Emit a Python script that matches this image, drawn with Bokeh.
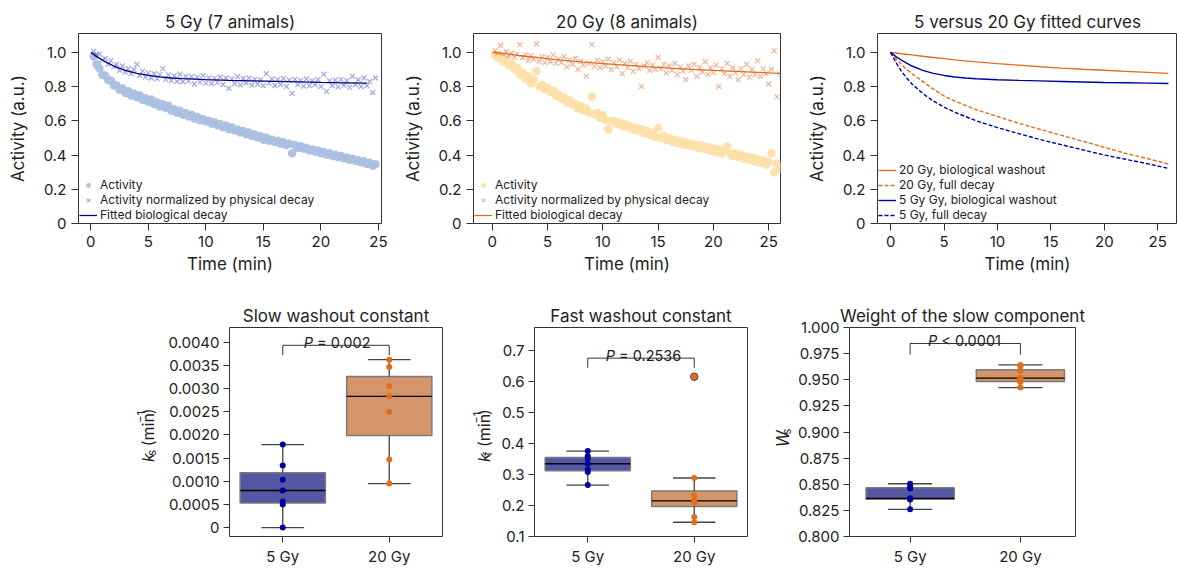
import numpy as np
from bokeh.plotting import figure
from bokeh.layouts import row, column
from bokeh.models import (FixedTicker, Legend, LegendItem, NumeralTickFormatter, Range1d)
from bokeh.embed import file_html
from bokeh.resources import INLINE
from bokeh.core.properties import value

# ---------------- data ----------------
t5 = [0.25, 0.5, 0.75, 1.0, 1.25, 1.5, 1.75, 2.0, 2.25, 2.5, 2.75, 3.0, 3.25, 3.5, 3.75, 4.0,
      4.25, 4.5, 4.75, 5.0, 5.25, 5.5, 5.75, 6.0, 6.25, 6.5, 6.75, 7.0, 7.25, 7.5, 7.75, 8.0,
      8.25, 8.5, 8.75, 9.0, 9.25, 9.5, 9.75, 10.0, 10.25, 10.5, 10.75, 11.0, 11.25, 11.5, 11.75, 12.0,
      12.25, 12.5, 12.75, 13.0, 13.25, 13.5, 13.75, 14.0, 14.25, 14.5, 14.75, 15.0, 15.25, 15.5, 15.75, 16.0,
      16.25, 16.5, 16.75, 17.0, 17.25, 17.5, 17.75, 18.0, 18.25, 18.5, 18.75, 19.0, 19.25, 19.5, 19.75, 20.0,
      20.25, 20.5, 20.75, 21.0, 21.25, 21.5, 21.75, 22.0, 22.25, 22.5, 22.75, 23.0, 23.25, 23.5, 23.75, 24.0,
      24.25, 24.5, 24.75]
activity_5 = [0.975, 0.93, 0.905, 0.868, 0.865, 0.838, 0.834, 0.808, 0.806, 0.781, 0.789, 0.762, 0.772, 0.748, 0.759, 0.738,
              0.749, 0.722, 0.731, 0.712, 0.724, 0.698, 0.709, 0.684, 0.697, 0.676, 0.688, 0.659, 0.668, 0.647, 0.658, 0.636,
              0.645, 0.625, 0.636, 0.613, 0.624, 0.603, 0.611, 0.596, 0.601, 0.583, 0.592, 0.574, 0.581, 0.563, 0.572, 0.551,
              0.562, 0.543, 0.549, 0.532, 0.541, 0.522, 0.531, 0.511, 0.52, 0.502, 0.509, 0.49, 0.503, 0.484, 0.49, 0.476,
              0.483, 0.466, 0.474, 0.459, 0.466, 0.41, 0.458, 0.443, 0.451, 0.436, 0.442, 0.427, 0.433, 0.419, 0.426, 0.41,
              0.418, 0.402, 0.41, 0.395, 0.402, 0.387, 0.394, 0.381, 0.386, 0.372, 0.379, 0.365, 0.37, 0.357, 0.363, 0.348,
              0.355, 0.338, 0.346]
normalized_5 = [1.005, 0.985, 0.99, 0.955, 0.965, 0.93, 0.95, 0.915, 0.93, 0.895, 0.92, 0.885, 0.905, 0.875, 0.9, 0.93,
                0.865, 0.89, 0.855, 0.88, 0.85, 0.875, 0.845, 0.87, 0.905, 0.842, 0.868, 0.835, 0.862, 0.83, 0.872, 0.828,
                0.86, 0.832, 0.858, 0.815, 0.855, 0.826, 0.864, 0.82, 0.852, 0.818, 0.848, 0.823, 0.856, 0.812, 0.85, 0.79,
                0.845, 0.818, 0.858, 0.81, 0.847, 0.822, 0.85, 0.808, 0.842, 0.815, 0.84, 0.805, 0.875, 0.82, 0.845, 0.805,
                0.84, 0.812, 0.848, 0.8, 0.838, 0.76, 0.842, 0.81, 0.836, 0.802, 0.845, 0.805, 0.835, 0.81, 0.84, 0.8,
                0.872, 0.772, 0.835, 0.805, 0.838, 0.798, 0.842, 0.808, 0.835, 0.795, 0.86, 0.81, 0.84, 0.8, 0.85, 0.805,
                0.83, 0.765, 0.85]

t20 = [0.25, 0.5, 0.75, 1.0, 1.25, 1.5, 1.75, 2.0, 2.25, 2.5, 2.75, 3.0, 3.25, 3.5, 3.75, 4.0,
       4.25, 4.5, 4.75, 5.0, 5.25, 5.5, 5.75, 6.0, 6.25, 6.5, 6.75, 7.0, 7.25, 7.5, 7.75, 8.0,
       8.25, 8.5, 8.75, 9.0, 9.25, 9.5, 9.75, 10.0, 10.25, 10.5, 10.75, 11.0, 11.25, 11.5, 11.75, 12.0,
       12.25, 12.5, 12.75, 13.0, 13.25, 13.5, 13.75, 14.0, 14.25, 14.5, 14.75, 15.0, 15.25, 15.5, 15.75, 16.0,
       16.25, 16.5, 16.75, 17.0, 17.25, 17.5, 17.75, 18.0, 18.25, 18.5, 18.75, 19.0, 19.25, 19.5, 19.75, 20.0,
       20.25, 20.5, 20.75, 21.0, 21.25, 21.5, 21.75, 22.0, 22.25, 22.5, 22.75, 23.0, 23.25, 23.5, 23.75, 24.0,
       24.25, 24.5, 24.75, 25.0, 25.25, 25.5, 25.75, 26.0]
activity_20 = [0.985, 0.97, 0.975, 0.945, 0.955, 0.925, 0.93, 0.9, 0.912, 0.87, 0.88, 0.845, 0.862, 0.82, 0.838, 0.89,
               0.8, 0.81, 0.785, 0.795, 0.77, 0.775, 0.745, 0.752, 0.73, 0.738, 0.705, 0.72, 0.695, 0.7, 0.672, 0.685,
               0.66, 0.672, 0.648, 0.74, 0.638, 0.645, 0.618, 0.632, 0.605, 0.55, 0.598, 0.6, 0.582, 0.59, 0.57, 0.58,
               0.562, 0.568, 0.548, 0.56, 0.54, 0.551, 0.528, 0.54, 0.518, 0.53, 0.505, 0.558, 0.5, 0.512, 0.488, 0.5,
               0.478, 0.49, 0.47, 0.482, 0.462, 0.475, 0.455, 0.466, 0.448, 0.46, 0.44, 0.455, 0.435, 0.446, 0.425, 0.44,
               0.418, 0.432, 0.41, 0.425, 0.45, 0.408, 0.395, 0.41, 0.388, 0.4, 0.378, 0.392, 0.372, 0.385, 0.362, 0.375,
               0.355, 0.368, 0.345, 0.36, 0.41, 0.3, 0.35, 0.32]
normalized_20 = [1.01, 0.995, 1.04, 0.99, 1.005, 0.98, 0.995, 0.97, 0.99, 1.045, 0.968, 0.985, 0.955, 0.98, 0.96, 1.05,
                 0.948, 0.975, 0.94, 0.97, 0.945, 0.985, 0.935, 0.962, 0.94, 0.975, 0.915, 0.955, 0.93, 0.965, 0.9, 0.948,
                 0.925, 0.86, 0.935, 1.045, 0.918, 0.955, 0.91, 0.945, 0.92, 0.96, 0.9, 0.94, 0.915, 0.955, 0.875, 0.935,
                 0.91, 0.948, 0.89, 0.93, 0.905, 0.8, 0.92, 0.94, 0.895, 0.925, 0.9, 0.97, 0.905, 0.93, 0.88, 0.92,
                 0.895, 0.935, 0.87, 0.915, 0.89, 0.84, 0.92, 0.895, 0.93, 0.86, 0.91, 0.885, 0.945, 0.87, 0.91, 0.88,
                 0.925, 0.8, 0.905, 0.875, 0.935, 0.86, 0.91, 0.88, 0.84, 0.905, 0.87, 0.93, 0.855, 0.9, 0.87, 0.95,
                 0.86, 0.905, 0.875, 0.815, 0.9, 1.01, 0.74, 0.875]

t_fit = [0, 0.5, 1, 1.5, 2, 3, 4, 5, 6, 7, 8, 10, 12, 14, 16, 18, 20, 22, 24, 26]
bio_5 = [1.0, 0.975, 0.955, 0.937, 0.92, 0.895, 0.877, 0.865, 0.856, 0.85, 0.846, 0.84, 0.836, 0.833, 0.83, 0.827, 0.824, 0.822, 0.82, 0.818]
bio_20 = [1.0, 0.996, 0.992, 0.989, 0.985, 0.977, 0.97, 0.963, 0.956, 0.95, 0.944, 0.934, 0.925, 0.916, 0.908, 0.901, 0.895, 0.889, 0.883, 0.877]
full_5 = [1.0, 0.94, 0.89, 0.85, 0.815, 0.76, 0.715, 0.68, 0.65, 0.625, 0.6, 0.56, 0.525, 0.49, 0.46, 0.43, 0.4, 0.375, 0.35, 0.322]
full_20 = [1.0, 0.963, 0.93, 0.9, 0.875, 0.83, 0.785, 0.745, 0.715, 0.69, 0.665, 0.625, 0.585, 0.55, 0.515, 0.48, 0.445, 0.41, 0.38, 0.347]

groups = ["5 Gy", "20 Gy"]
ks_5 = [0.0, 0.0005, 0.00056, 0.0008, 0.00103, 0.00134, 0.00179]
ks_20 = [0.00095, 0.00147, 0.0025, 0.00283, 0.00305, 0.00346, 0.00362]
kf_5 = [0.266, 0.308, 0.316, 0.335, 0.351, 0.359, 0.376]
kf_20 = [0.146, 0.163, 0.208, 0.212, 0.218, 0.233, 0.289, 0.616]
ws_5 = [0.826, 0.8355, 0.836, 0.8365, 0.846, 0.8475, 0.8505]
ws_20 = [0.9425, 0.948, 0.9485, 0.951, 0.952, 0.9585, 0.9625, 0.9642]
p_texts = ["= 0.002", "= 0.2536", "< 0.0001"]

# ---------------- style ----------------
FONT = "Inter"
INK = "#222222"
LB = "#aac0df"
PU = "#5a5ac4"
NAVY = "#000080"
PEACH = "#fddfa9"
ORX = "#e07a3c"
OR = "#e06c1e"
BL = "#0000a0"
BOX5 = "#5457a3"
BOX20 = "#d4956b"
DOT5 = "#00009c"
DOT20 = "#e06e1c"
NB = "\u00a0"


def style(p, tick_out=7, standoff=5):
    p.outline_line_color = "#333333"
    p.outline_line_width = 1
    p.xgrid.visible = False
    p.ygrid.visible = False
    for ax in p.axis:
        ax.axis_line_color = None
        ax.major_tick_line_color = "#333333"
        ax.major_tick_in = 0
        ax.major_tick_out = tick_out
        ax.minor_tick_line_color = None
        ax.major_label_standoff = standoff
        ax.major_label_text_font = FONT
        ax.major_label_text_font_size = "15px"
        ax.major_label_text_color = INK
        ax.axis_label_text_font = FONT
        ax.axis_label_text_font_size = "17px"
        ax.axis_label_text_font_style = "normal"
        ax.axis_label_text_color = INK
    p.title.text_font = FONT
    p.title.text_font_size = "17px"
    p.title.text_font_style = "normal"
    p.title.text_color = INK
    p.title.align = "center"
    p.title.standoff = 4


TH = 285


def top_fig(title, xr, width, bl, br):
    p = figure(width=width, height=TH, x_range=Range1d(*xr), y_range=Range1d(0, 1.11),
               output_backend="svg", toolbar_location=None, title=title,
               min_border_left=bl, min_border_right=br, min_border_top=33, min_border_bottom=62)
    style(p)
    p.xaxis.ticker = FixedTicker(ticks=[0, 5, 10, 15, 20, 25])
    p.yaxis.ticker = FixedTicker(ticks=[0, 0.2, 0.4, 0.6, 0.8, 1.0])
    p.yaxis.formatter = NumeralTickFormatter(format="0.0")
    p.yaxis.major_label_overrides = {0: "0"}
    p.xaxis.axis_label = "Time (min)"
    p.yaxis.axis_label = "Activity (a.u.)"
    p.xaxis.axis_label_standoff = 4
    p.yaxis.axis_label_standoff = 12
    return p


def make_legend(items):
    leg = Legend(items=items, location="bottom_left")
    leg.border_line_color = None
    leg.background_fill_alpha = 0
    leg.label_text_font = FONT
    leg.label_text_font_size = "12px"
    leg.label_text_color = INK
    leg.glyph_width = 18
    leg.glyph_height = 12
    leg.label_height = 12
    leg.spacing = 0
    leg.padding = 3
    leg.margin = 1
    leg.label_standoff = 3
    return leg


# ---- panel 1
p1 = top_fig("5 Gy (7 animals)", (-1.07, 25.27), 400, 78, 19)
r1a = p1.scatter(t5, activity_5, marker="circle", size=8.5, fill_color=LB, line_color=None, fill_alpha=0.95)
r1n = p1.scatter(t5, normalized_5, marker="x", size=7, line_color=PU, line_alpha=0.55, line_width=1.2)
r1f = p1.line(t_fit[:-1], bio_5[:-1], line_color=NAVY, line_width=1.3)
p1.add_layout(make_legend([LegendItem(label="Activity", renderers=[r1a]),
                           LegendItem(label="Activity normalized by physical decay", renderers=[r1n]),
                           LegendItem(label="Fitted biological decay", renderers=[r1f])]))

# ---- panel 2
p2 = top_fig("20 Gy (8 animals)", (-1.7, 26.07), 390, 69, 10)
r2a = p2.scatter(t20, activity_20, marker="circle", size=8.5, fill_color=PEACH, line_color=None, fill_alpha=0.95)
r2n = p2.scatter(t20, normalized_20, marker="x", size=7, line_color=ORX, line_alpha=0.55, line_width=1.2)
r2f = p2.line(t_fit, bio_20, line_color=OR, line_width=1.3)
p2.add_layout(make_legend([LegendItem(label="Activity", renderers=[r2a]),
                           LegendItem(label="Activity normalized by physical decay", renderers=[r2n]),
                           LegendItem(label="Fitted biological decay", renderers=[r2f])]))

# ---- panel 3
p3 = top_fig("5 versus 20 Gy fitted curves", (-1.23, 26.85), 387, 87, 0)
r3a = p3.line(t_fit, bio_20, line_color=OR, line_width=1.4)
r3b = p3.line(t_fit, full_20, line_color=OR, line_width=1.4, line_dash="4 2")
r3c = p3.line(t_fit, bio_5, line_color=BL, line_width=1.4)
r3d = p3.line(t_fit, full_5, line_color=BL, line_width=1.4, line_dash="4 2")
p3.add_layout(make_legend([LegendItem(label="20 Gy, biological washout", renderers=[r3a]),
                           LegendItem(label="20 Gy, full decay", renderers=[r3b]),
                           LegendItem(label="5 Gy Gy, biological washout", renderers=[r3c]),
                           LegendItem(label="5 Gy, full decay", renderers=[r3d])]))

# ---------------- box plots ----------------
BH = 283


def bottom_fig(title, yr, width, bl, br, xr=(-0.5, 1.5)):
    p = figure(width=width, height=BH, x_range=Range1d(*xr), y_range=Range1d(*yr),
               output_backend="svg", toolbar_location=None, title=title,
               min_border_left=bl, min_border_right=br, min_border_top=42, min_border_bottom=30)
    style(p, tick_out=6, standoff=4)
    p.xaxis.ticker = FixedTicker(ticks=[0, 1])
    p.xaxis.major_label_overrides = {0: groups[0], 1: groups[1]}
    return p


def box(p, xc, vals, fill, dot):
    v = np.array(vals)
    q1, med, q3 = np.percentile(v, [25, 50, 75])
    iqr = q3 - q1
    inl = v[(v >= q1 - 1.5 * iqr) & (v <= q3 + 1.5 * iqr)]
    out = v[(v < q1 - 1.5 * iqr) | (v > q3 + 1.5 * iqr)]
    lo, hi = inl.min(), inl.max()
    p.quad(left=[xc - 0.4], right=[xc + 0.4], bottom=[q1], top=[q3], fill_color=fill,
           line_color="#7a7a7a", line_width=1.5)
    p.segment(x0=[xc, xc], y0=[lo, q3], x1=[xc, xc], y1=[q1, hi], line_color="#444444", line_width=1.3)
    p.segment(x0=[xc - 0.2, xc - 0.2], y0=[lo, hi], x1=[xc + 0.2, xc + 0.2], y1=[lo, hi],
              line_color="#444444", line_width=1.3)
    p.segment(x0=[xc - 0.4], y0=[med], x1=[xc + 0.4], y1=[med], line_color="black", line_width=1.3)
    if len(out):
        p.scatter([xc] * len(out), out, size=7.5, fill_color=dot, line_color="#444444", line_width=1)
    p.scatter([xc] * len(v), v, size=6, fill_color=dot, line_color=None)


def bracket(p, y_leg, y_top, ptxt, off):
    p.line([0, 0, 1, 1], [y_leg, y_top, y_top, y_leg], line_color="#333333", line_width=1)
    p.text([0.5], [y_top], text=["P"], text_font=value(FONT), text_font_style="italic",
           text_font_size="14.5px", text_color=INK, text_align="right", text_baseline="alphabetic",
           x_offset=off, y_offset=-3)
    p.text([0.5], [y_top], text=[NB + ptxt],
           text_font=value(FONT), text_font_size="14.5px", text_color=INK, text_align="left",
           text_baseline="alphabetic", x_offset=off, y_offset=-3)


def label_fig(width, x_base, y_start, parts):
    """Narrow helper figure holding a rotated, multi-part axis label."""
    f = figure(width=width, height=BH, x_range=Range1d(0, width), y_range=Range1d(0, BH),
               output_backend="svg", toolbar_location=None, x_axis_type=None, y_axis_type=None,
               min_border=0, min_border_left=0, min_border_right=0, min_border_top=0, min_border_bottom=0)
    f.outline_line_color = None
    f.xgrid.visible = False
    f.ygrid.visible = False
    y = y_start
    for text, size, style_, shift, adv in parts:
        f.text([x_base + shift], [y], text=[text], angle=np.pi / 2, text_font=value(FONT),
               text_font_size=f"{size}px", text_font_style=style_, text_color=INK,
               text_align="left", text_baseline="alphabetic")
        y += adv
    return f


# ---- panel 4
p4 = bottom_fig("Slow washout constant", (-0.000192, 0.004314), 291, 70, 8)
p4.yaxis.ticker = FixedTicker(ticks=[0, 0.0005, 0.001, 0.0015, 0.002, 0.0025, 0.003, 0.0035, 0.004])
p4.yaxis.formatter = NumeralTickFormatter(format="0.0000")
p4.yaxis.major_label_overrides = {0: "0"}
box(p4, 0, ks_5, BOX5, DOT5)
box(p4, 1, ks_20, BOX20, DOT20)
bracket(p4, 0.00372, 0.00393, p_texts[0], -23)
l4 = label_fig(159, 147, 101, [("k", 16, "italic", 0, 8.5), ("s", 11, "normal", 4, 6.5),
                               (NB + "(min", 16, "normal", 0, 38),
                               ("\u22121", 11, "normal", -7, 11.5), (")", 16, "normal", 0, 6)])

# ---- panel 5
p5 = bottom_fig("Fast washout constant", (0.1, 0.775), 265, 39, 13)
p5.yaxis.ticker = FixedTicker(ticks=[0.1, 0.2, 0.3, 0.4, 0.5, 0.6, 0.7])
p5.yaxis.formatter = NumeralTickFormatter(format="0.0")
box(p5, 0, kf_5, BOX5, DOT5)
box(p5, 1, kf_20, BOX20, DOT20)
bracket(p5, 0.645, 0.676, p_texts[1], -26)
l5 = label_fig(45, 33, 101, [("k", 16, "italic", 0, 8.5), ("f", 11, "normal", 4, 5.5),
                             (NB + "(min", 16, "normal", 0, 38),
                             ("\u22121", 11, "normal", -7, 11.5), (")", 16, "normal", 0, 6)])

# ---- panel 6
p6 = bottom_fig("Weight of the slow component", (0.8, 1.0), 383, 53, 102, xr=(-0.55, 1.5))
p6.yaxis.ticker = FixedTicker(ticks=[0.8, 0.825, 0.85, 0.875, 0.9, 0.925, 0.95, 0.975, 1.0])
p6.yaxis.formatter = NumeralTickFormatter(format="0.000")
box(p6, 0, ws_5, BOX5, DOT5)
box(p6, 1, ws_20, BOX20, DOT20)
bracket(p6, 0.974, 0.9847, p_texts[2], -28)
l6 = label_fig(34, 22, 121, [("W", 17, "italic", 0, 17), ("s", 11, "normal", 4, 6)])

layout = column(row(p1, p2, p3), row(l4, p4, l5, p5, l6, p6))
open("out.html", "w").write(file_html(layout, INLINE))
